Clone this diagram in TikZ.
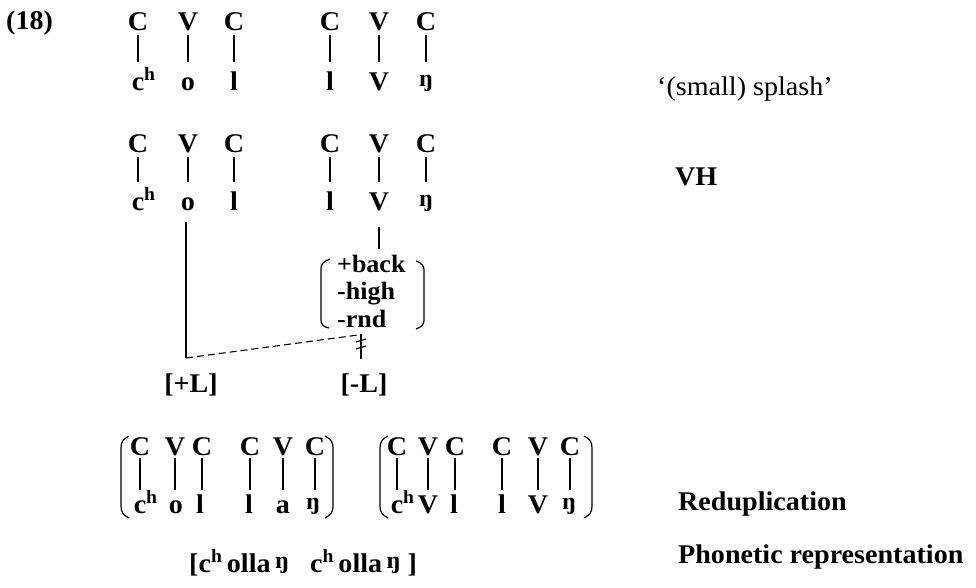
\documentclass[tikz,border=0pt]{standalone}
\usepackage{fontspec}
\setmainfont{Liberation Serif}[FakeStretch=1.04]
\usetikzlibrary{calc}
% small eng sitting on the baseline, and c with superscript h
\newcommand\engx{\raisebox{4pt}{\fontsize{24}{24}\selectfont ŋ}}
\newcommand\chx{c\rlap{\textsuperscript{h}}}
\begin{document}
\begin{tikzpicture}[x=1pt,y=-1pt,
  every node/.style={inner sep=0pt, font=\fontsize{27}{30}\selectfont\bfseries},
  seg/.style={anchor=base, text height=18pt, text depth=0pt},
  lab/.style={anchor=base west},
  feat/.style={anchor=base west, font=\fontsize{25}{28}\selectfont\bfseries},
  ln/.style={line width=1.3pt},
  assoc/.style={ln, shorten <=5pt, shorten >=10pt},
  assocB/.style={ln, shorten <=3pt, shorten >=5pt},
  brk/.style={line width=1.2pt}]
\useasboundingbox (0,0) rectangle (976,587);

\node[lab] (num) at (6,29) {(18)};

% underlying form
\node[seg] (a1) at (138,30) {C};
\node[seg] (a2) at (188,30) {V};
\node[seg] (a3) at (234,30) {C};
\node[seg] (a4) at (330,30) {C};
\node[seg] (a5) at (379,30) {V};
\node[seg] (a6) at (426,30) {C};
\node[seg] (p1) at (138,90) {\chx};
\node[seg] (p2) at (188,90) {o};
\node[seg] (p3) at (234,90) {l};
\node[seg] (p4) at (330,90) {l};
\node[seg] (p5) at (379,90) {V};
\node[seg] (p6) at (426,90) {\engx};
\foreach \i in {1,...,6} \draw[assoc] (a\i) -- (p\i);
\node[lab, font=\fontsize{27}{30}\selectfont\mdseries] (gloss) at (657,95) {‘(small) splash’};

% vowel harmony
\node[seg] (b1) at (138,152) {C};
\node[seg] (b2) at (188,152) {V};
\node[seg] (b3) at (234,152) {C};
\node[seg] (b4) at (330,152) {C};
\node[seg] (b5) at (379,152) {V};
\node[seg] (b6) at (426,152) {C};
\node[seg] (q1) at (138,210) {\chx};
\node[seg] (q2) at (188,210) {o};
\node[seg] (q3) at (234,210) {l};
\node[seg] (q4) at (330,210) {l};
\node[seg] (q5) at (379,210) {V};
\node[seg] (q6) at (426,210) {\engx};
\foreach \i in {1,...,6} \draw[assoc] (b\i) -- (q\i);
\node[lab] (vh) at (675,185) {VH};

% feature matrix under the harmonising vowel
\coordinate (k3) at (379,249);
\draw[ln, shorten <=17pt] (q5) -- (k3);
\node[feat] (f1) at (337,272) {+back};
\node[feat] (f2) at (337,299) {-high};
\node[feat] (f3) at (337,327) {-rnd};
\draw[brk] (330,259) .. controls (324,261) and (321,264) .. (321,268) -- (321,320)
  .. controls (321,324) and (323,327) .. (329,328);
\draw[brk] (416,261) .. controls (422,263) and (424,266) .. (424,270) -- (424,320)
  .. controls (424,324) and (422,327) .. (416,329);

% spreading of [+L] and delinking of [-L]
\node[anchor=base] (pL) at (191,392) {[+L]};
\node[anchor=base] (mL) at (364,392) {[-L]};
\coordinate (k1) at (186,358);
\draw[ln, shorten <=12pt] (q2.south -| k1) -- (k1);
\coordinate (k2) at (358,335);
\draw[line width=1.1pt, dash pattern=on 7pt off 4pt] (k1) -- (k2);
\coordinate (k4) at (361,334);
\coordinate (k5) at (361,359);
\draw[ln] (k4) -- (k5);
\draw[line width=1.1pt] ($(k4)+(-5,8)$) -- ($(k4)+(5,5)$);
\draw[line width=1.1pt] ($(k4)+(-5,15)$) -- ($(k4)+(5,12)$);

% reduplication
\node[seg] (c1) at (140,455) {C};
\node[seg] (c2) at (175,455) {V};
\node[seg] (c3) at (202,455) {C};
\node[seg] (c4) at (250,455) {C};
\node[seg] (c5) at (283,455) {V};
\node[seg] (c6) at (315,455) {C};
\node[seg] (r1) at (140,513) {\chx};
\node[seg] (r2) at (176,513) {o};
\node[seg] (r3) at (200,513) {l};
\node[seg] (r4) at (249,513) {l};
\node[seg] (r5) at (283,513) {a};
\node[seg] (r6) at (313,513) {\engx};
\foreach \i in {1,...,6} \draw[assocB] (c\i) -- (c\i |- r\i.north);
\node[seg] (d1) at (397,455) {C};
\node[seg] (d2) at (428,455) {V};
\node[seg] (d3) at (455,455) {C};
\node[seg] (d4) at (502,455) {C};
\node[seg] (d5) at (538,455) {V};
\node[seg] (d6) at (570,455) {C};
\node[seg] (s1) at (397,513) {\chx};
\node[seg] (s2) at (428,513) {V};
\node[seg] (s3) at (454,513) {l};
\node[seg] (s4) at (502,513) {l};
\node[seg] (s5) at (538,513) {V};
\node[seg] (s6) at (569,513) {\engx};
\foreach \i in {1,...,6} \draw[assocB] (d\i) -- (d\i |- s\i.north);
\foreach \x in {121,380} {
  \draw[brk] (\x+8,436) .. controls (\x+2,439) and (\x,442) .. (\x,448) -- (\x,506)
    .. controls (\x,512) and (\x+2,515) .. (\x+8,518);
}
\foreach \x in {333,592} {
  \draw[brk] (\x-8,436) .. controls (\x-2,439) and (\x,442) .. (\x,448) -- (\x,506)
    .. controls (\x,512) and (\x-2,515) .. (\x-8,518);
}
\node[lab] (redup) at (678,510) {Reduplication};

% surface form
\node[lab] (phon) at (189,572) {[c\textsuperscript{h}\,olla\,\engx\ \ \ c\textsuperscript{h}\,olla\,\engx\ ]};
\node[lab] (phonlab) at (678,563) {Phonetic representation};
\end{tikzpicture}
\end{document}
